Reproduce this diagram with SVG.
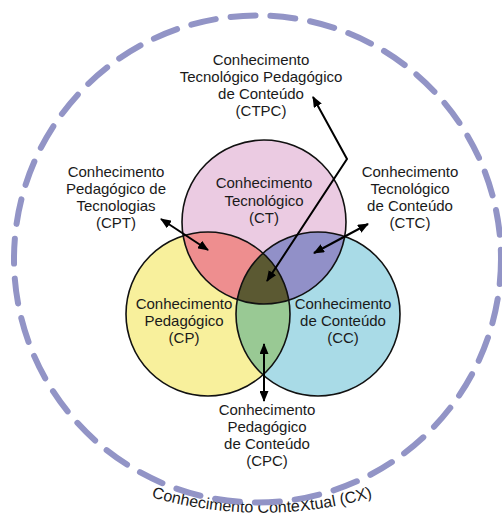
<svg xmlns="http://www.w3.org/2000/svg" width="502" height="516" viewBox="0 0 502 516">
<style>
text{font-family:"Liberation Sans",Arial,sans-serif;font-size:15px;fill:#1a1a1a;text-anchor:middle}
.outline{fill:none;stroke:#111;stroke-width:1.6}
.conn{fill:none;stroke:#000;stroke-width:2}
</style>
<defs>
<marker id="ah" markerUnits="userSpaceOnUse" markerWidth="11" markerHeight="9" refX="10" refY="4.5" orient="auto-start-reverse">
<path d="M0,0 L11,4.5 L0,9 z" fill="#000"/>
</marker>
<clipPath id="clipCT"><circle cx="264" cy="222" r="82"/></clipPath>
<clipPath id="clipCP"><circle cx="208" cy="314" r="82"/></clipPath>
<path id="cxarc" d="M 60 458 A 400 400 0 0 0 464 458"/>
</defs>

<g id="contexto">
<text style="font-size:16px"><textPath href="#cxarc" startOffset="50%">Conhecimento ConteXtual (CX)</textPath></text>
<circle cx="257.5" cy="259" r="243.5" fill="none" stroke="#9294c6" stroke-width="6" stroke-dasharray="25 15" stroke-linecap="round"/>
</g>

<g id="ct"><circle cx="264" cy="222" r="82" fill="#ebcbe2"/></g>
<g id="cp"><circle cx="208" cy="314" r="82" fill="#f8f09c"/></g>
<g id="cc"><circle cx="318" cy="314" r="82" fill="#a9dbe7"/></g>
<g id="cpt"><circle cx="208" cy="314" r="82" fill="#ee8e8f" clip-path="url(#clipCT)"/></g>
<g id="ctc"><circle cx="318" cy="314" r="82" fill="#9190c8" clip-path="url(#clipCT)"/></g>
<g id="cpc"><circle cx="318" cy="314" r="82" fill="#99c994" clip-path="url(#clipCP)"/></g>
<g id="ctpc"><g clip-path="url(#clipCP)"><circle cx="318" cy="314" r="82" fill="#5b5932" clip-path="url(#clipCT)"/></g></g>
<g id="outlines">
<circle class="outline" cx="264" cy="222" r="82"/>
<circle class="outline" cx="208" cy="314" r="82"/>
<circle class="outline" cx="318" cy="314" r="82"/>
</g>

<g id="label-ct">
<text x="264" y="188">Conhecimento</text>
<text x="264" y="206">Tecnológico</text>
<text x="264" y="223">(CT)</text>
</g>
<g id="label-cp">
<text x="184" y="309">Conhecimento</text>
<text x="184" y="326">Pedagógico</text>
<text x="184" y="343">(CP)</text>
</g>
<g id="label-cc">
<text x="343" y="309">Conhecimento</text>
<text x="343" y="326">de Conteúdo</text>
<text x="343" y="343">(CC)</text>
</g>
<g id="label-ctpc">
<text x="261" y="65">Conhecimento</text>
<text x="261" y="82">Tecnológico Pedagógico</text>
<text x="261" y="99">de Conteúdo</text>
<text x="261" y="116">(CTPC)</text>
</g>
<g id="label-cpt">
<text x="116" y="177">Conhecimento</text>
<text x="116" y="194">Pedagógico de</text>
<text x="116" y="211">Tecnologias</text>
<text x="116" y="228">(CPT)</text>
</g>
<g id="label-ctc">
<text x="410" y="177">Conhecimento</text>
<text x="410" y="194">Tecnológico</text>
<text x="410" y="211">de Conteúdo</text>
<text x="410" y="228">(CTC)</text>
</g>
<g id="label-cpc">
<text x="267" y="415">Conhecimento</text>
<text x="267" y="432">Pedagógico</text>
<text x="267" y="449">de Conteúdo</text>
<text x="267" y="466">(CPC)</text>
</g>

<g id="connectors">
<path class="conn" d="M 267 281 L 347 159 L 313 97" marker-start="url(#ah)" marker-end="url(#ah)"/>
<path class="conn" d="M 161 219 L 208 250" marker-start="url(#ah)" marker-end="url(#ah)"/>
<path class="conn" d="M 368 224 L 314 253" marker-start="url(#ah)" marker-end="url(#ah)"/>
<path class="conn" d="M 264 344 L 264 401" marker-start="url(#ah)" marker-end="url(#ah)"/>
</g>
</svg>
